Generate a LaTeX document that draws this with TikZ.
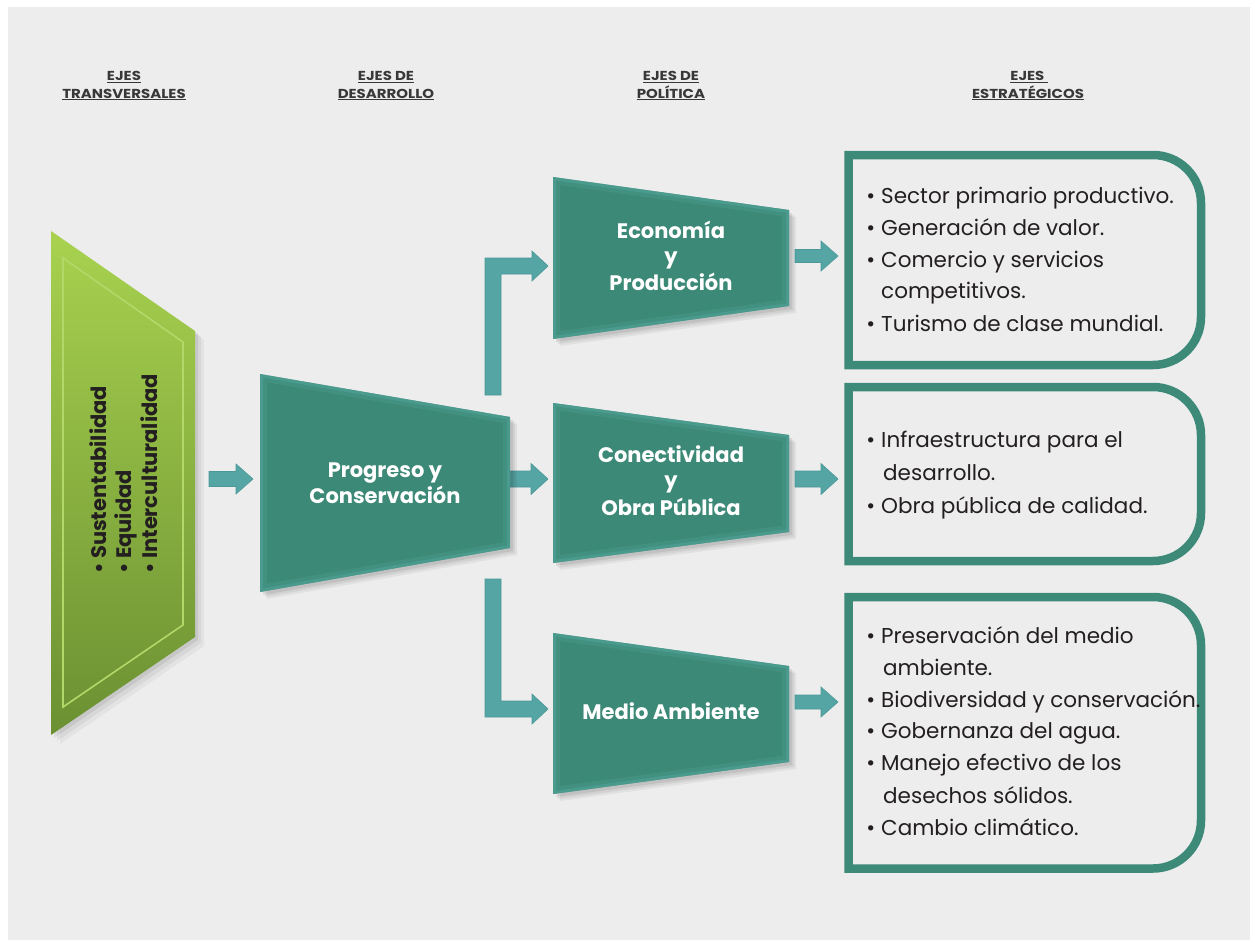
\documentclass[tikz,border=0pt]{standalone}
\usepackage{fontspec}
\setmainfont{Poppins}
\usetikzlibrary{calc}
\definecolor{bgc}{HTML}{EDEDED}
\definecolor{tealdark}{HTML}{3D8977}
\definecolor{tealglow}{HTML}{52A69C}
\definecolor{arrowc}{HTML}{56A5A5}
\definecolor{arrowe}{HTML}{4A9898}
\definecolor{boxline}{HTML}{3D8A78}
\definecolor{greenlight}{HTML}{A8D24F}
\definecolor{greendark}{HTML}{6A9032}
\definecolor{greenline}{HTML}{B3D86A}
\definecolor{txtc}{HTML}{231F20}
\definecolor{headc}{HTML}{383838}
\newcommand\tzshape[6]{%
  \foreach \s/\o in {7/0.05,5/0.06,3/0.08}{%
    \fill[black,opacity=\o] (#1+\s,#3+\s) -- (#2+\s,#4+\s) -- (#2+\s,#5+\s) -- (#1+\s,#6+\s) -- cycle;}
  \begin{scope}
    \clip (#1,#3) -- (#2,#4) -- (#2,#5) -- (#1,#6) -- cycle;
    \fill[tealdark] (#1,#3) -- (#2,#4) -- (#2,#5) -- (#1,#6) -- cycle;
    \draw[tealglow,line width=14pt,opacity=.25] (#1,#3) -- (#2,#4) -- (#2,#5) -- (#1,#6) -- cycle;
    \draw[tealglow,line width=6pt,opacity=.5] (#1,#3) -- (#2,#4) -- (#2,#5) -- (#1,#6) -- cycle;
  \end{scope}}
\newcommand\harrow[6]{% x0, xh, xt, yc, shaft half, head half
  \fill[arrowc,draw=arrowe,line width=0.6pt] (#1,#4-#5) -- (#2,#4-#5) -- (#2,#4-#6) -- (#3,#4) -- (#2,#4+#6) -- (#2,#4+#5) -- (#1,#4+#5) -- cycle;}
\newcommand\stratbox[2]{% ytop, ybottom (stroke centre)
  \draw[boxline,line width=8.5pt,line join=miter] (848.5,#1) -- (1153,#1)
    arc[start angle=-90,end angle=0,radius=48] -- (1201,#2-48)
    arc[start angle=0,end angle=90,radius=48] -- (848.5,#2) -- cycle;}
\tikzset{
  head/.style={font=\fontsize{13}{15}\selectfont\bfseries, text=headc, inner sep=0pt, anchor=base},
  ttl/.style={font=\fontsize{21}{24}\selectfont\bfseries, text=white, inner sep=0pt, anchor=base},
  itm/.style={font=\fontsize{21.5}{26}\selectfont, text=txtc, inner sep=0pt, anchor=base west},
  rot/.style={font=\fontsize{21}{26}\selectfont\bfseries, text=txtc, inner sep=0pt, anchor=base west, rotate=90}
}
\newcommand\bul{\llap{\textbullet\hspace{6pt}}}
\newcommand\hd[1]{\scalebox{1.15}[1]{\underline{#1}}}
\begin{document}
\begin{tikzpicture}[x=1pt,y=-1pt]
\useasboundingbox (0,0) rectangle (1255,942);
\fill[white] (0,0) rectangle (1255,942);
\fill[bgc] (8,7) rectangle (1250,940);

% headers
\node[head] (h1a) at (124,81) {\hd{EJES}};
\node[head] (h1b) at (124,98) {\hd{TRANSVERSALES}};
\node[head] (h2a) at (386,81) {\hd{EJES DE}};
\node[head] (h2b) at (386,98) {\hd{DESARROLLO}};
\node[head] (h3a) at (671,81) {\hd{EJES DE}};
\node[head] (h3b) at (671,98) {\hd{POLÍTICA}};
\node[head] (h4a) at (1029,81) {\hd{EJES\ }};
\node[head] (h4b) at (1028,98) {\hd{ESTRATÉGICOS}};

% green shape
\foreach \s/\o in {9/0.04,6/0.05,3/0.07}{%
  \fill[black,opacity=\o] (51+\s,231+\s) -- (195+\s,331+\s) -- (195+\s,637+\s) -- (51+\s,735+\s) -- cycle;}
\shade[top color=greenlight,bottom color=greendark] (51,231) -- (195,331) -- (195,637) -- (51,735) -- cycle;
\draw[greenline,line width=1.6pt] (63,258) -- (183,342) -- (183,625) -- (63,707) -- cycle;
\node[rot] (t1) at (106.5,574) {•\ Sustentabilidad};
\node[rot] (t2) at (131,574) {•\ Equidad};
\node[rot] (t3) at (157,574) {•\ Interculturalidad};

% arrows into the centre
\harrow{209}{236}{253}{479}{7.5}{15}

% elbow arrows
\fill[arrowc,draw=arrowe,line width=0.6pt] (485,395) -- (485,258) -- (532,258) -- (532,251) -- (548,266) -- (532,281) -- (532,274) -- (501,274) -- (501,395) -- cycle;
\fill[arrowc,draw=arrowe,line width=0.6pt] (485,579) -- (485,717) -- (532,717) -- (532,724) -- (548,709) -- (532,694) -- (532,701) -- (501,701) -- (501,579) -- cycle;
\harrow{505}{531}{548}{479}{8}{15.5}

% centre trapezoid
\tzshape{260}{510}{374}{417}{548}{592}
\node[ttl] (p1) at (385,477) {Progreso y};
\node[ttl] (p2) at (385,503) {Conservación};

% policy trapezoids
\tzshape{553}{789}{177}{210}{306}{339}
\node[ttl] (e1) at (671,238) {Economía};
\node[ttl] (e2) at (671,263) {y};
\node[ttl] (e3) at (671,290) {Producción};

\tzshape{553}{789}{403}{435}{532}{563}
\node[ttl] (c1) at (671,462) {Conectividad};
\node[ttl] (c2) at (671,487) {y};
\node[ttl] (c3) at (671,515) {Obra Pública};

\tzshape{553}{789}{633}{666}{762}{794}
\node[ttl] (m1) at (671,719) {Medio Ambiente};

% arrows to boxes
\harrow{795}{821}{838}{256}{6.5}{15}
\harrow{795}{821}{838}{479}{8}{15.5}
\harrow{795}{821}{838}{702}{7}{15}

% strategic boxes
\stratbox{155}{365}
\node[itm] (a1) at (881,203) {\bul Sector primario productivo.};
\node[itm] (a2) at (881,235) {\bul Generación de valor.};
\node[itm] (a3) at (881,267) {\bul Comercio y servicios};
\node[itm] (a4) at (881,298) {competitivos.};
\node[itm] (a5) at (881,331) {\bul Turismo de clase mundial.};

\stratbox{387}{561}
\node[itm] (b1) at (881,447) {\bul Infraestructura para el};
\node[itm] (b2) at (883,480) {desarrollo.};
\node[itm] (b3) at (881,513) {\bul Obra pública de calidad.};

\stratbox{597}{868.5}
\node[itm] (d1) at (881,643) {\bul Preservación del medio};
\node[itm] (d2) at (883,675) {ambiente.};
\node[itm] (d3) at (881,707) {\bul Biodiversidad y conservación.};
\node[itm] (d4) at (881,738) {\bul Gobernanza del agua.};
\node[itm] (d5) at (881,770) {\bul Manejo efectivo de los};
\node[itm] (d6) at (883,803) {desechos sólidos.};
\node[itm] (d7) at (881,835) {\bul Cambio climático.};
\end{tikzpicture}
\end{document}
